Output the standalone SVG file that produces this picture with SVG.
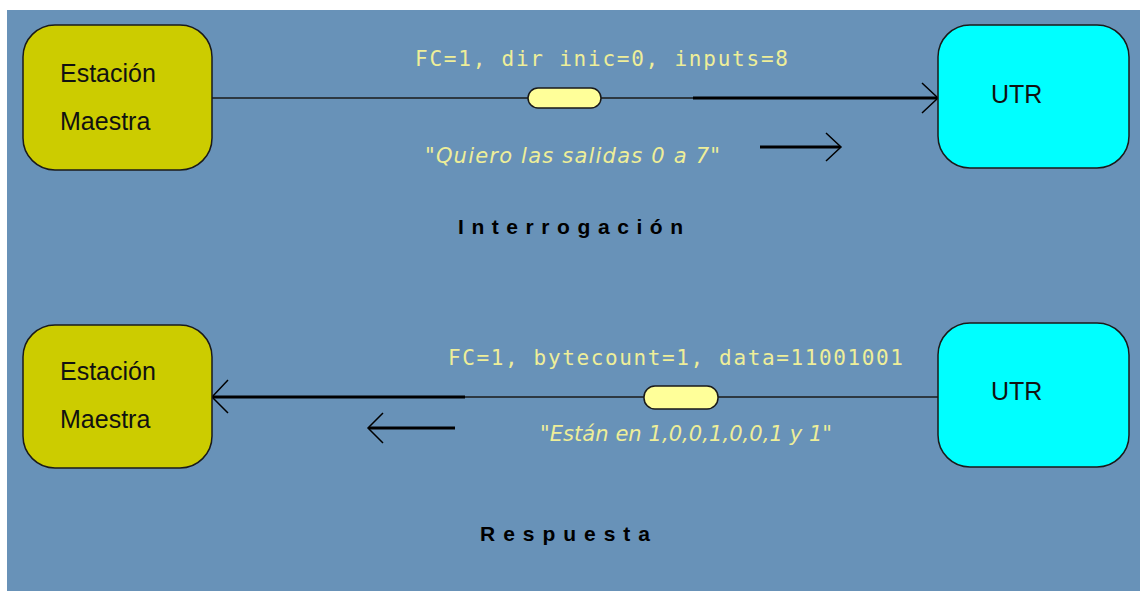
<svg xmlns="http://www.w3.org/2000/svg" width="1140" height="591" viewBox="0 0 1140 591">
<defs>
<style>
.bg{fill:#6892B8}
.master{fill:#CCCC00;stroke:#1a1a1a;stroke-width:1.5}
.utr{fill:#00FFFF;stroke:#1a1a1a;stroke-width:1.5}
.ntext{font-family:"Liberation Sans",Arial,sans-serif;font-size:25px;fill:#111}
.mono{font-family:"DejaVu Sans Mono","Liberation Mono",monospace;font-size:21px;fill:#EEEE99}
.ital{font-family:"DejaVu Sans",sans-serif;font-style:italic;font-size:21px;fill:#EEEE99}
.title{font-family:"Liberation Sans",Arial,sans-serif;font-weight:bold;font-size:21px;fill:#000}
.thin{stroke:#1a1a1a;stroke-width:1.5;fill:none}
.thick{stroke:#000;stroke-width:3;fill:none}
.head{stroke:#000;stroke-width:1.5;fill:none}
.cap{fill:#FFFF99;stroke:#1a1a1a;stroke-width:1.5}
</style>
</defs>
<rect x="0" y="0" width="1140" height="591" fill="#ffffff"/>
<rect class="bg" x="7" y="10" width="1133" height="581"/>

<g id="connectors">
  <!-- top request -->
  <line class="thin" x1="212" y1="98" x2="693" y2="98"/>
  <line class="thick" x1="693" y1="98" x2="937" y2="98"/>
  <polyline class="head" points="922,83 938,98 922,113"/>
  <rect class="cap" x="528" y="88" width="73" height="20" rx="10"/>
  <line class="thick" x1="760" y1="147" x2="840" y2="147"/>
  <polyline class="head" points="826,133 841,147 826,161"/>
  <!-- bottom response -->
  <line class="thin" x1="465" y1="397" x2="938" y2="397"/>
  <line class="thick" x1="213" y1="397" x2="465" y2="397"/>
  <polyline class="head" points="228,380 212,397 228,413"/>
  <rect class="cap" x="644" y="386" width="74" height="23" rx="11"/>
  <line class="thick" x1="369" y1="428" x2="455" y2="428"/>
  <polyline class="head" points="383,413 368,428 383,443"/>
</g>

<g id="labels">
  <text class="mono" x="415" y="66" textLength="373">FC=1, dir inic=0, inputs=8</text>
  <text class="ital" x="425" y="163" textLength="295">"Quiero las salidas 0 a 7"</text>
  <text class="title" x="458" y="234" textLength="225">Interrogación</text>
  <text class="mono" x="448" y="365" textLength="455">FC=1, bytecount=1, data=11001001</text>
  <text class="ital" x="540" y="441" textLength="292">"Están en 1,0,0,1,0,0,1 y 1"</text>
  <text class="title" x="480" y="541" textLength="170">Respuesta</text>
</g>

<g id="master-top">
  <rect class="master" x="23" y="25" width="189" height="145" rx="32"/>
  <text class="ntext" x="60" y="82">Estación</text>
  <text class="ntext" x="60" y="130">Maestra</text>
</g>
<g id="utr-top">
  <rect class="utr" x="938" y="25" width="191" height="143" rx="32"/>
  <text class="ntext" x="991" y="103">UTR</text>
</g>
<g id="master-bottom">
  <rect class="master" x="23" y="325" width="189" height="143" rx="32"/>
  <text class="ntext" x="60" y="380">Estación</text>
  <text class="ntext" x="60" y="428">Maestra</text>
</g>
<g id="utr-bottom">
  <rect class="utr" x="938" y="323" width="191" height="144" rx="32"/>
  <text class="ntext" x="991" y="400">UTR</text>
</g>
</svg>
